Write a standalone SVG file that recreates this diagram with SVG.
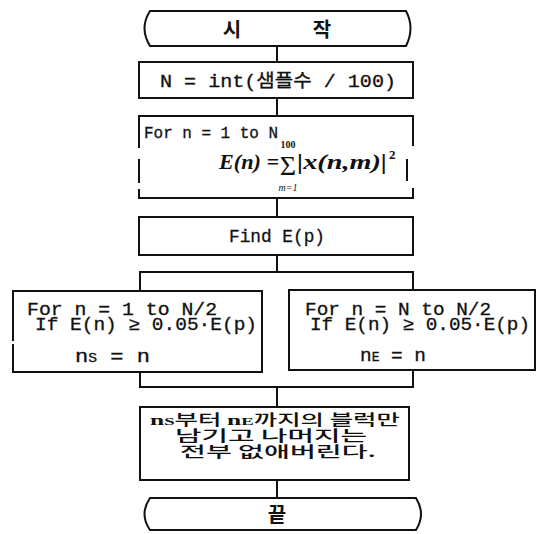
<svg xmlns="http://www.w3.org/2000/svg" width="540" height="534" viewBox="0 0 540 534">
  <style>
    .ln { fill: none; stroke: #111; stroke-width: 2; stroke-linecap: square; }
    .box { fill: #fff; stroke: #111; stroke-width: 2; }
    .tt { font-family: "Liberation Mono", "Noto Sans CJK KR", monospace; font-size: 18px; fill: #111; stroke: #111; stroke-width: 0.3; }
    .kr { font-family: "Noto Sans CJK KR", sans-serif; font-size: 15px; fill: #111; font-weight: 500; }
    .mi { font-family: "Liberation Serif", serif; font-style: italic; font-size: 21px; fill: #111; font-weight: bold; }
    .ms { font-family: "Liberation Serif", serif; font-size: 10px; fill: #111; }
  </style>
  <rect width="540" height="534" fill="#fff"/>

  <!-- connectors -->
  <g id="connectors" class="ln">
    <line x1="277" y1="46" x2="277" y2="62"/>
    <line x1="277" y1="98" x2="277" y2="116"/>
    <line x1="277" y1="198" x2="277" y2="217"/>
    <line x1="277" y1="255" x2="277" y2="272"/>
    <polyline points="140,291 140,272 413,272 413,290"/>
    <polyline points="140,372 140,387 413,387 413,370"/>
    <line x1="277" y1="387" x2="277" y2="407"/>
    <line x1="277" y1="480" x2="277" y2="498"/>
  </g>

  <!-- start terminal -->
  <g id="start">
    <path class="box" d="M150,11 L406,11 Q415,28 406,46 L150,46 Q139,28 150,11 Z"/>
    <text class="kr" x="232" y="37" text-anchor="middle" style="font-size:20px;font-weight:bold">시</text>
    <text class="kr" x="322" y="37" text-anchor="middle" style="font-size:20px;font-weight:bold">작</text>
  </g>

  <!-- block count -->
  <g id="calc-n">
    <rect class="box" x="139" y="62" width="274" height="36"/>
    <text class="tt" x="160" y="87" textLength="236" lengthAdjust="spacingAndGlyphs">N = int(샘플수 / 100)</text>
  </g>

  <!-- energy loop -->
  <g id="energy-loop">
    <rect x="139" y="116" width="274" height="82" fill="#fff"/>
    <path class="ln" d="M139,147 L139,116 L413,116 L413,145 M139,160 L139,182 M407,160 L407,180 M139,190 L139,198 L413,198 L413,189"/>
    <text class="tt" x="144" y="138" style="font-size:16px" textLength="134" lengthAdjust="spacingAndGlyphs">For n = 1 to N</text>
    <text class="mi" x="219" y="169" textLength="60" lengthAdjust="spacingAndGlyphs">E(n) =</text>
    <text class="ms" x="288" y="148" text-anchor="middle" style="font-weight:bold">100</text>
    <text x="288" y="175" text-anchor="middle" font-family="Liberation Serif, serif" font-size="28" fill="#111">Σ</text>
    <text class="ms" x="288" y="191" text-anchor="middle" style="font-style:italic">m=1</text>
    <text class="mi" x="297" y="169" textLength="90" lengthAdjust="spacingAndGlyphs">|x(n,m)|</text>
    <text class="ms" x="389" y="159" style="font-size:13px;font-weight:bold">2</text>
  </g>

  <!-- peak search -->
  <g id="find-peak">
    <rect class="box" x="139" y="217" width="274" height="38"/>
    <text class="tt" x="277" y="242" text-anchor="middle" textLength="96" lengthAdjust="spacingAndGlyphs">Find E(p)</text>
  </g>

  <!-- start index search -->
  <g id="start-search">
    <rect x="13" y="291" width="249" height="81" fill="#fff"/>
    <path class="ln" d="M13,340 L13,291 L262,291 L262,372 L13,372 L13,345"/>
    <text class="tt" x="27" y="315" textLength="190" lengthAdjust="spacingAndGlyphs">For n = 1 to N/2</text>
    <text class="tt" x="35" y="330" textLength="222" lengthAdjust="spacingAndGlyphs">If E(n) ≥ 0.05·E(p)</text>
    <text class="tt" x="75" y="362" textLength="75" lengthAdjust="spacingAndGlyphs">n<tspan font-size="12">S</tspan> = n</text>
  </g>

  <!-- end index search -->
  <g id="end-search">
    <rect class="box" x="289" y="290" width="246" height="80"/>
    <text class="tt" x="305" y="315" textLength="186" lengthAdjust="spacingAndGlyphs">For n = N to N/2</text>
    <text class="tt" x="310" y="330" textLength="220" lengthAdjust="spacingAndGlyphs">If E(n) ≥ 0.05·E(p)</text>
    <text class="tt" x="360" y="361" textLength="66" lengthAdjust="spacingAndGlyphs">n<tspan font-size="12">E</tspan> = n</text>
  </g>

  <!-- keep blocks -->
  <g id="keep-blocks">
    <rect class="box" x="140" y="407" width="269" height="73"/>
    <text class="kr" x="150" y="425" textLength="250" lengthAdjust="spacingAndGlyphs"><tspan font-family="Liberation Serif, serif" font-weight="bold">n<tspan font-size="11">S</tspan></tspan>부터 <tspan font-family="Liberation Serif, serif" font-weight="bold">n<tspan font-size="11">E</tspan></tspan>까지의 블럭만</text>
    <text class="kr" x="175" y="441" textLength="192" lengthAdjust="spacingAndGlyphs">남기고 나머지는</text>
    <text class="kr" x="180" y="457" textLength="196" lengthAdjust="spacingAndGlyphs">전부 없애버린다.</text>
  </g>

  <!-- end terminal -->
  <g id="end">
    <path class="box" d="M150,498 L416,498 Q426,514 416,530 L150,530 Q139,514 150,498 Z"/>
    <text class="kr" x="277" y="522" text-anchor="middle" style="font-size:20px;font-weight:bold">끝</text>
  </g>
</svg>
